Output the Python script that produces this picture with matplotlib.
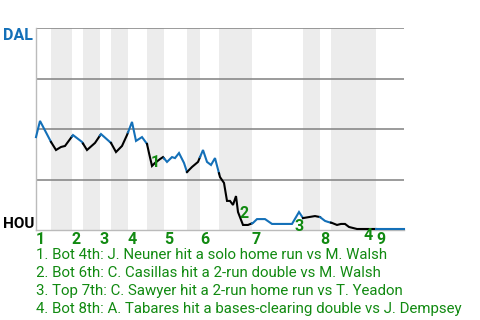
import numpy as np
import matplotlib
matplotlib.use('Agg')
import matplotlib.pyplot as plt

plt.rcParams['font.family'] = ['Roboto', 'DejaVu Sans']

# win probability for DAL (percent) at each play position
play_x = [0, 4, 15, 20, 25, 29, 37, 46, 51, 59, 65, 75, 80, 86, 91, 96, 100, 106,
          111, 113, 116, 119, 124, 127, 131, 136, 139, 143, 148, 151, 156, 162, 167,
          171, 175, 179, 184, 188, 191, 194, 197, 200, 202, 207, 212, 217, 221, 229,
          236, 256, 263, 267, 273, 279, 284, 289, 292, 296, 301, 305, 309, 313, 317,
          321, 339, 368]
dal_wp = [46.0, 54.0, 43.6, 39.6, 41.1, 41.6, 47.0, 43.6, 39.6, 43.1, 47.5, 43.1, 38.6,
          41.6, 47.0, 53.5, 44.1, 46.0, 42.6, 38.1, 31.7, 33.2, 35.1, 36.1, 33.7, 36.1,
          35.6, 38.1, 33.2, 28.7, 31.2, 33.7, 39.6, 33.7, 32.2, 35.6, 26.2, 23.3, 14.4,
          14.4, 12.4, 16.8, 8.9, 2.5, 2.5, 3.5, 5.4, 5.4, 3.0, 3.0, 8.9, 5.9, 6.4, 6.9,
          6.4, 4.5, 4.0, 3.5, 2.5, 3.0, 3.0, 1.5, 1.0, 0.5, 0.5, 0.5]

# start of each half inning (top 1st, bot 1st, ..., top 9th) and end of game
half_starts = [0, 15, 36, 47, 64, 75, 92, 111, 128, 151, 164, 183, 216, 267, 284, 295, 340, 368]
innings = ['1', '2', '3', '4', '5', '6', '7', '8', '9']

# key plays
event_x = [119.5, 208.5, 263.5, 332]
event_wp = [33.4, 8.2, 1.5, -2.5]
events = ["1. Bot 4th: J. Neuner hit a solo home run vs M. Walsh",
          "2. Bot 6th: C. Casillas hit a 2-run double vs M. Walsh",
          "3. Top 7th: C. Sawyer hit a 2-run home run vs T. Yeadon",
          "4. Bot 8th: A. Tabares hit a bases-clearing double vs J. Dempsey"]

blue = '#1470b8'
green = '#118a11'

fig = plt.figure(figsize=(4.8, 3.2), dpi=100)
ax = fig.add_axes([36/480, 1-230/320, 368/480, 202/320])
ax.set_xlim(half_starts[0], half_starts[-1])
ax.set_ylim(0, 100)

x = np.array(play_x, float)
y = np.array(dal_wp, float)
for i in range(len(half_starts)-1):
    a, b = half_starts[i], half_starts[i+1]
    if i % 2 == 1:
        ax.axvspan(a, b, color='#ececec', lw=0, zorder=0)
    inside = (x > a) & (x < b)
    sx = np.concatenate([[a], x[inside], [b]])
    sy = np.concatenate([[np.interp(a, x, y)], y[inside], [np.interp(b, x, y)]])
    ax.plot(sx, sy, color=blue if i % 2 == 0 else 'black', lw=1.5,
            solid_joinstyle='miter', zorder=3, clip_on=False)

for g in [25, 50, 75, 100]:
    ax.axhline(g, color='#808080', lw=1.1, zorder=2)

for s in ['top', 'right']:
    ax.spines[s].set_visible(False)
for s in ['left', 'bottom']:
    ax.spines[s].set_color('#bbbbbb')
    ax.spines[s].set_linewidth(1.0)
ax.set_xticks([])
ax.set_yticks([])

for k, lab in enumerate(innings):
    ax.text(half_starts[2*k], -0.045, lab, transform=ax.get_xaxis_transform(),
            ha='left', va='center', color=green, fontsize=11.5, fontweight='bold')

for k in range(len(event_x)):
    ax.text(event_x[k], event_wp[k], str(k+1), ha='center', va='center', color=green,
            fontsize=11.5, fontweight='bold', zorder=4, clip_on=False)

fig.text(3/480, 1-28/320, 'DAL', color=blue, fontsize=11.5, fontweight='bold', ha='left', va='top')
fig.text(3/480, 1-228/320, 'HOU', color='black', fontsize=11, fontweight='bold', ha='left', va='baseline')

for k, t in enumerate(events):
    fig.text(36/480, 1-(259+18*k)/320, t, color=green, fontsize=10.8, ha='left', va='baseline')

fig.savefig('out.png', dpi=100)
